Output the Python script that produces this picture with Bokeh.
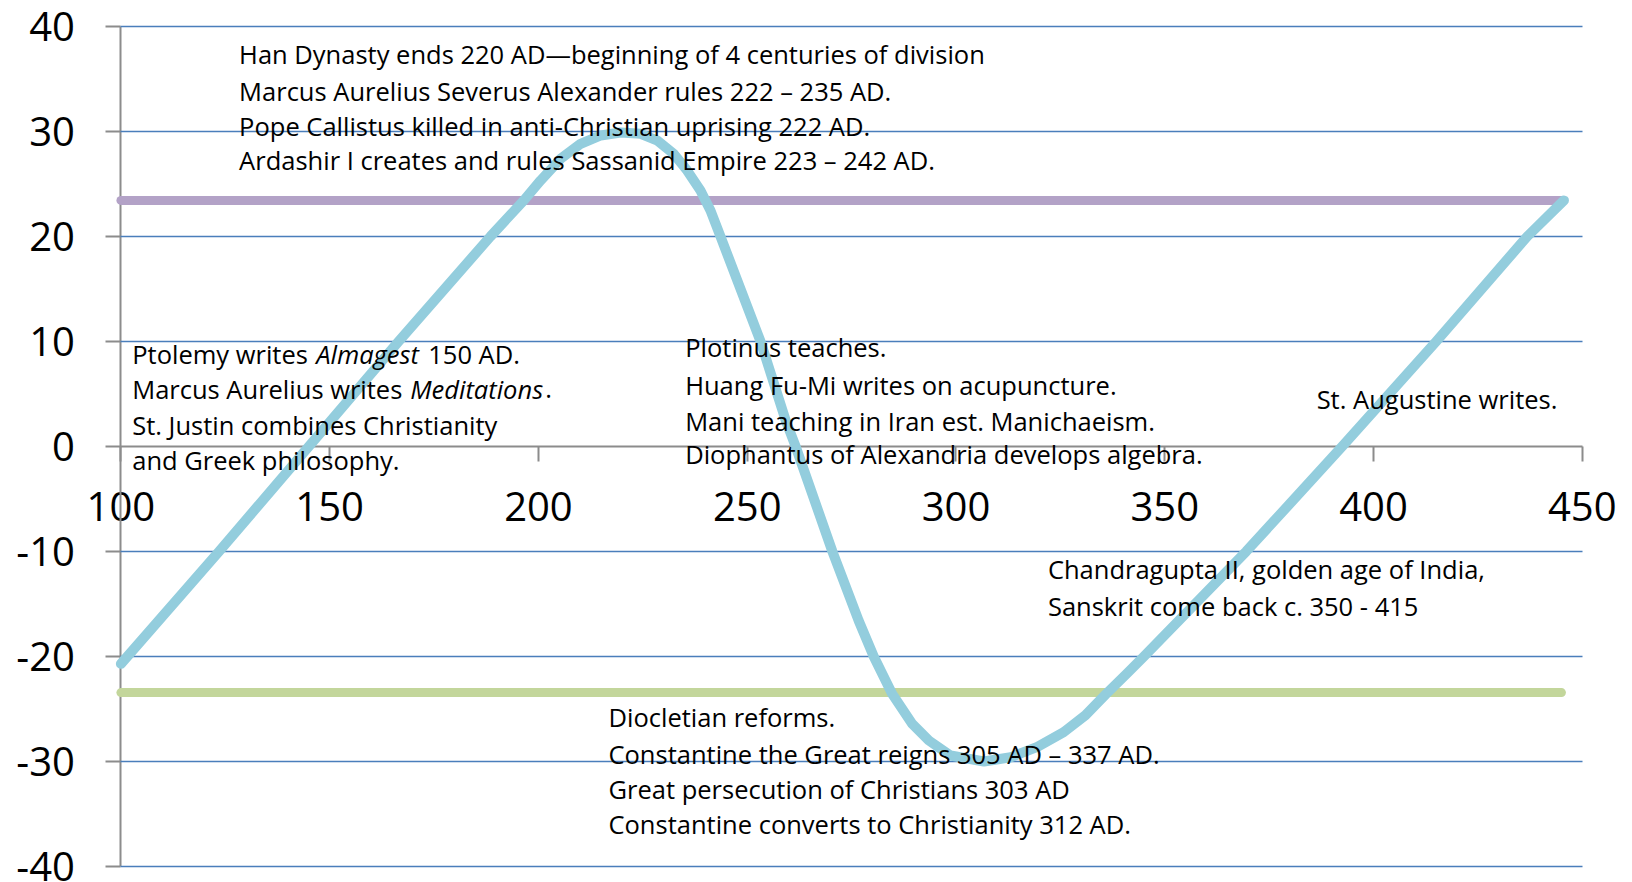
from bokeh.plotting import figure
from bokeh.models import Range1d, FixedTicker, Grid
from bokeh.core.properties import value
from bokeh.embed import file_html
from bokeh.resources import INLINE

# ---------------- data ----------------
curve_year = [100, 123.5, 145, 166.5, 188.5, 196.5, 200.5, 205.3, 210.1, 214.9,
              219.7, 224.5, 228.5, 232.4, 235.6, 238.8, 241.2, 243.6, 248.4, 253.2,
              259.2, 261.6, 270.4, 276.7, 280.3, 284.7, 289.5, 293.5, 298.7,
              306.7, 313.1, 319.5, 325.8, 331.0, 336.0, 341.0, 345.0, 369.5, 392.5,
              415.0, 436.8, 445.6]
curve_value = [-20.7, -10, 0, 10, 20, 23.44, 25.33, 27.4, 28.83, 29.62,
               29.9, 29.78, 29.14, 27.88, 26.29, 24.38, 22.48, 20, 15, 10,
               2.5, 0, -10, -16.6, -20, -23.55, -26.4, -28.0, -29.43,
               -30.0, -29.6, -28.6, -27.2, -25.6, -23.55, -21.6, -20, -10, 0,
               10, 20, 23.44]
tropic_years = [100, 445]
tropic_cancer = [23.44, 23.44]
tropic_capricorn = [-23.44, -23.44]

x_tick_values = [100, 150, 200, 250, 300, 350, 400, 450]
y_tick_values = [-40, -30, -20, -10, 0, 10, 20, 30, 40]

top_lines = [
    "Han Dynasty ends 220 AD\u2014beginning of 4 centuries of division",
    "Marcus Aurelius Severus Alexander rules 222 \u2013 235 AD.",
    "Pope Callistus killed in anti-Christian uprising 222 AD.",
    "Ardashir I creates and rules Sassanid Empire 223 \u2013 242 AD.",
]
plotinus_lines = [
    "Plotinus teaches.",
    "Huang Fu-Mi writes on acupuncture.",
    "Mani teaching in Iran est. Manichaeism.",
    "Diophantus of Alexandria develops algebra.",
]
augustine_lines = ["St. Augustine writes."]
chandra_lines = [
    "Chandragupta II, golden age of India,",
    "Sanskrit come back c. 350 - 415",
]
diocletian_lines = [
    "Diocletian reforms.",
    "Constantine the Great reigns 305 AD \u2013 337 AD.",
    "Great persecution of Christians 303 AD",
    "Constantine converts to Christianity 312 AD.",
]
# Ptolemy block: (text, style) segments per line
ptolemy_segments = [
    [("Ptolemy writes ", "normal"), ("Almagest", "italic"), ("150 AD.", "normal")],
    [("Marcus Aurelius writes ", "normal"), ("Meditations", "italic"), (".", "normal")],
    [("St. Justin combines Christianity", "normal")],
    [("and Greek philosophy.", "normal")],
]

# ---------------- layout / style ----------------
FONT = "Open Sans"
ANN_SIZE = "25.5px"
ANN_YOFF = -10
TICK_SIZE = "40px"
AXIS_GRAY = "#8C8C8C"

# The frame covers the whole canvas; axes are placed at data locations.
p = figure(width=1632, height=882,
           x_range=Range1d(71.165, 462.02), y_range=Range1d(-41.524, 42.476),
           output_backend="svg", toolbar_location=None, min_border=0)
p.outline_line_color = None
p.background_fill_color = "white"
p.border_fill_color = "white"

# grid (value 0 is covered by the x axis)
p.xgrid.visible = False
p.ygrid.ticker = FixedTicker(ticks=[t for t in y_tick_values if t != 0])
p.ygrid.grid_line_color = "#4A7EBB"
p.ygrid.grid_line_width = 1.6
if "cross_bounds" in Grid.properties():
    p.ygrid.cross_bounds = (x_tick_values[0], x_tick_values[-1])


def style_axis(ax, ticks, location, bounds, standoff):
    ax.fixed_location = location
    ax.bounds = bounds
    ax.level = "underlay"
    ax.ticker = FixedTicker(ticks=ticks)
    ax.major_label_overrides = {t: str(t) for t in ticks}
    ax.axis_line_color = AXIS_GRAY
    ax.axis_line_width = 2
    ax.major_tick_line_color = AXIS_GRAY
    ax.major_tick_line_width = 2
    ax.major_tick_out = 15
    ax.major_tick_in = 0
    ax.minor_tick_out = 0
    ax.minor_tick_in = 0
    ax.major_label_standoff = standoff
    ax.major_label_text_font = FONT
    ax.major_label_text_font_size = TICK_SIZE
    ax.major_label_text_color = "black"


style_axis(p.xaxis[0], x_tick_values, 0, (x_tick_values[0], x_tick_values[-1]), 31)
style_axis(p.yaxis[0], y_tick_values, x_tick_values[0], (y_tick_values[0], y_tick_values[-1]), 31)

# tropic lines
p.line(tropic_years, tropic_cancer, line_color="#B3A2C7", line_width=9, line_cap="round")
p.line(tropic_years, tropic_capricorn, line_color="#C3D69B", line_width=9, line_cap="round")
# curve
p.line(curve_year, curve_value, line_color="#93CDDD", line_width=10,
       line_join="round", line_cap="round")


def add_block(lines, x, ys):
    p.text(x=[x] * len(lines), y=ys, text=lines, y_offset=ANN_YOFF,
           text_font=value(FONT), text_font_size=ANN_SIZE,
           text_color="black", text_align="left", text_baseline="alphabetic")


add_block(top_lines, 128.31, [36.40, 32.93, 29.56, 26.29])
add_block(plotinus_lines, 235.14, [8.48, 4.89, 1.51, -1.66])
add_block(augustine_lines, 386.37, [3.59])
add_block(chandra_lines, 322.01, [-12.60, -16.10])
add_block(diocletian_lines, 216.77, [-26.73, -30.22, -33.55, -36.89])

# Ptolemy block with italic titles (screen-pixel offsets of each segment)
ptolemy_x = 102.71
ptolemy_ys = [7.88, 4.54, 1.14, -2.22]
ptolemy_offsets = [[0, 184, 296], [0, 278, 413], [0], [0]]
for segs, yv, offs in zip(ptolemy_segments, ptolemy_ys, ptolemy_offsets):
    for (txt, style), off in zip(segs, offs):
        p.text(x=[ptolemy_x], y=[yv], text=[txt], x_offset=off, y_offset=ANN_YOFF,
               text_font=value(FONT), text_font_size=ANN_SIZE,
               text_font_style=style, text_color="black",
               text_align="left", text_baseline="alphabetic")

open("out.html", "w").write(file_html(p, INLINE))
